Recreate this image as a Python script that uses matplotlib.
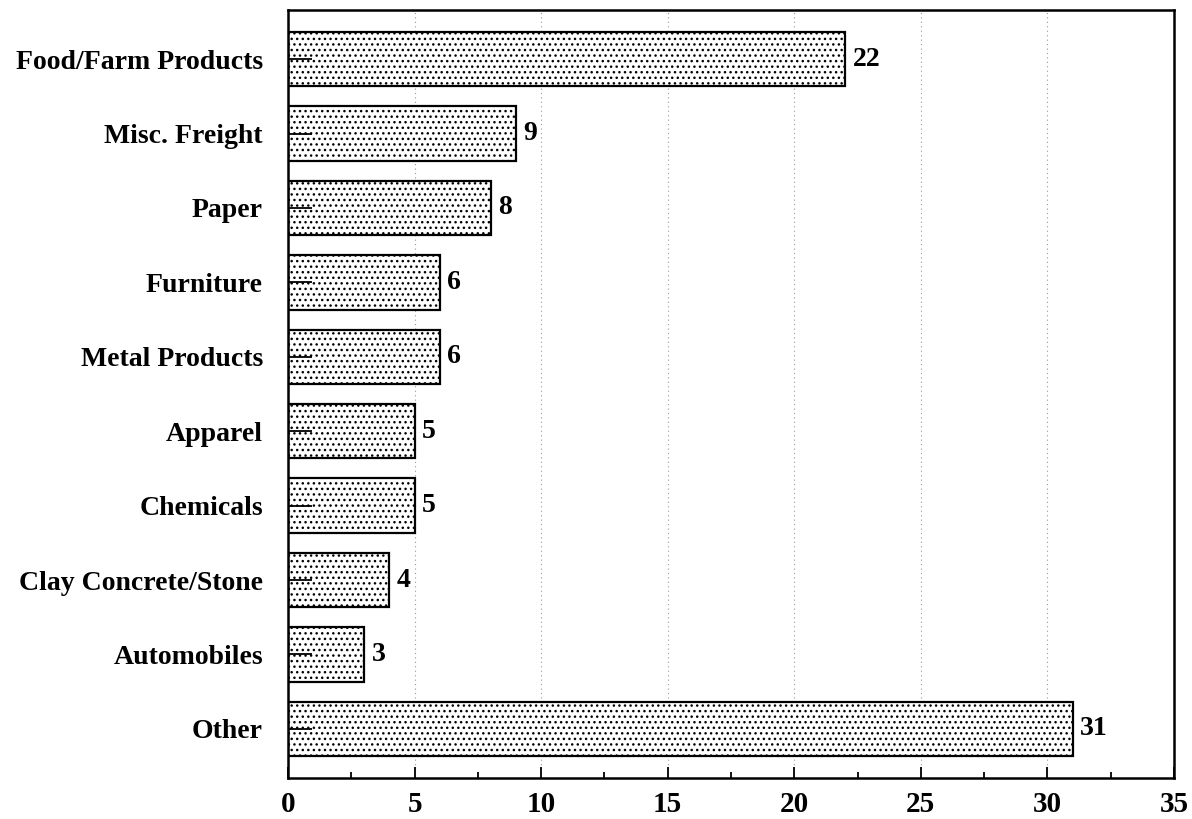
import matplotlib
matplotlib.use("Agg")
import matplotlib.pyplot as plt
from matplotlib.ticker import MultipleLocator

categories = [
    "Food/Farm Products", "Misc. Freight", "Paper", "Furniture",
    "Metal Products", "Apparel", "Chemicals", "Clay Concrete/Stone",
    "Automobiles", "Other",
]
shares = [22, 9, 8, 6, 6, 5, 5, 4, 3, 31]
grid_x = [5, 10, 15, 20, 25, 30]

plt.rcParams["font.family"] = ["Liberation Serif", "DejaVu Serif"]
plt.rcParams["hatch.linewidth"] = 1.0
plt.rcParams["hatch.color"] = "#222222"

fig = plt.figure(figsize=(11.92, 8.19), dpi=100)
ax = fig.add_axes([288 / 1192, 1 - 778 / 819, (1174 - 288) / 1192, (778 - 10) / 819])

# dotted guide lines stay behind the bars; the axis ticks sit on top
ax.vlines(grid_x, 0, 1, transform=ax.get_xaxis_transform(),
          linestyles=(0, (1, 3)), colors="#999999", linewidth=0.8, zorder=0)

pos = list(range(len(categories)))
bars = ax.barh(pos, shares, height=0.73, color="white", edgecolor="black",
               linewidth=1.6, hatch="...", zorder=1)

for b, v in zip(bars, shares):
    ax.text(b.get_width() + 0.3, b.get_y() + b.get_height() / 2, str(v),
            va="center", ha="left", fontsize=20, fontweight="bold")

ax.set_xlim(0, 35)
ax.set_ylim(len(categories) - 0.34, -0.66)
ax.set_yticks(pos)
ax.set_yticklabels(categories, fontsize=20, fontweight="bold")
ax.xaxis.set_major_locator(MultipleLocator(5))
ax.xaxis.set_minor_locator(MultipleLocator(2.5))
ax.tick_params(axis="x", which="major", direction="in", length=8, width=1.3,
               labelsize=21, pad=9)
ax.tick_params(axis="x", which="minor", direction="in", length=4, width=1.3)
ax.tick_params(axis="y", direction="in", length=17, width=1.3, pad=18)
for lbl in ax.get_xticklabels():
    lbl.set_fontweight("bold")
for s in ax.spines.values():
    s.set_linewidth(1.8)

fig.savefig("out.png", dpi=100)
